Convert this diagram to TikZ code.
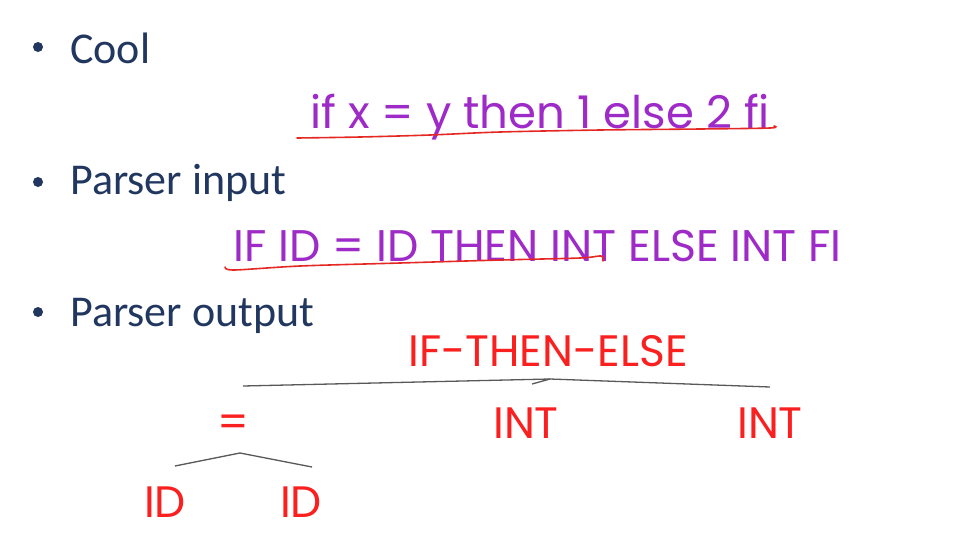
\documentclass[tikz,border=0pt]{standalone}
\usepackage{fontspec}
\setmainfont{Carlito}
\newfontfamily\gothic{Poppins}
\definecolor{slideblue}{RGB}{33,55,96}
\definecolor{codepurple}{RGB}{158,42,200}
\definecolor{treered}{RGB}{250,32,32}
\definecolor{inkred}{RGB}{228,40,36}
\tikzset{
  item/.style={anchor=base west, inner sep=0pt, text=slideblue, font=\fontsize{44}{44}\selectfont},
  dot/.style={circle, fill=slideblue, inner sep=0pt, minimum size=10pt},
  code/.style={anchor=base west, inner sep=0pt, text=codepurple, font=\gothic\fontsize{44}{44}\selectfont},
  tok/.style={anchor=base, inner sep=0pt, text=treered, font=\gothic\fontsize{44}{44}\selectfont},
  branch/.style={draw=black!65, line width=1.3pt},
  ink/.style={draw=inkred, line width=1.6pt, line cap=round}
}
\begin{document}
\begin{tikzpicture}[x=1pt,y=-1pt]
  \useasboundingbox[fill=white] (0,0) rectangle (962,550);

  % bullets
  \node[dot] (B1) at (38,47) {};
  \node[dot] (B2) at (38,182) {};
  \node[dot] (B3) at (38,312) {};
  \node[item] (Cool) at (70,63) {Cool};
  \node[item] (In) at (70,194) {Parser input};
  \node[item] (Out) at (70,326) {Parser output};

  % program text and tokens
  \node[code, font=\gothic\fontsize{45}{45}\selectfont] (Src) at (310,128) {if x = y then 1 else 2 fi};
  \node[code, font=\gothic\fontsize{44.3}{44.3}\selectfont] (Tok) at (233,261) {IF ID = ID THEN INT ELSE INT FI};

  % underlines (like the pen marks)
  \draw[ink] plot[smooth] coordinates {(297,138) (360,137) (430,135) (500,132) (600,130) (700,129) (770,128) (774,126)};
  \draw[ink] plot[smooth] coordinates {(225,267) (234,270) (300,266) (400,263) (500,260) (580,258) (601,256) (603,261)};

  % tree
  \node[tok] (ITE) at (548,366) {IF-THEN-ELSE};
  \node[tok] (Eq) at (233,437) {=};
  \node[tok] (IntA) at (526,438) {INT};
  \node[tok] (IntB) at (770,438) {INT};
  \node[tok] (IdA) at (165,517) {ID};
  \node[tok] (IdB) at (301,517) {ID};

  \coordinate (ITEl) at (243,386);
  \coordinate (ITEtop) at (550,379);
  \coordinate (ITEr) at (770,387);
  \coordinate (ITEtick) at (532,384);
  \coordinate (Eql) at (175,466);
  \coordinate (Eqtop) at (240,453);
  \coordinate (Eqr) at (312,467);

  % lines
  \draw[branch] (ITEl) -- (ITEtop) -- (ITEr);
  \draw[branch] (ITEtop) -- (ITEtick);
  \draw[branch] (Eql) -- (Eqtop) -- (Eqr);
\end{tikzpicture}
\end{document}
